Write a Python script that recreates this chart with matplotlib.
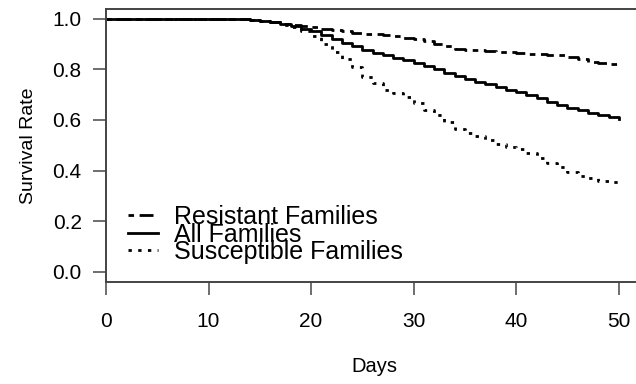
import matplotlib.pyplot as plt
import numpy as np

plt.rcParams['font.family'] = ['Liberation Sans', 'DejaVu Sans']

days = np.arange(0, 51)

resistant = [1.0]*13 + [0.998, 0.995, 0.99, 0.985, 0.98, 0.975, 0.97, 0.965,
    0.96, 0.955, 0.95, 0.945, 0.94, 0.938, 0.935, 0.93, 0.925, 0.92, 0.91,
    0.9, 0.89, 0.88, 0.877, 0.875, 0.872, 0.87, 0.868, 0.865, 0.862, 0.86,
    0.858, 0.855, 0.85, 0.84, 0.83, 0.825, 0.82, 0.814]
all_fam = [1.0]*13 + [0.998, 0.995, 0.99, 0.985, 0.978, 0.97, 0.96, 0.95,
    0.935, 0.92, 0.905, 0.89, 0.875, 0.865, 0.855, 0.845, 0.835, 0.825,
    0.812, 0.8, 0.787, 0.775, 0.762, 0.75, 0.74, 0.73, 0.72, 0.71, 0.7,
    0.685, 0.672, 0.66, 0.648, 0.638, 0.628, 0.618, 0.61, 0.605]
susceptible = [1.0]*13 + [0.998, 0.995, 0.99, 0.985, 0.975, 0.965, 0.95, 0.93,
    0.9, 0.87, 0.84, 0.81, 0.77, 0.745, 0.72, 0.705, 0.69, 0.665, 0.64,
    0.62, 0.59, 0.565, 0.55, 0.535, 0.52, 0.505, 0.495, 0.485, 0.47, 0.45,
    0.43, 0.415, 0.395, 0.38, 0.37, 0.36, 0.355, 0.352]

labels = ['Resistant Families', 'All Families', 'Susceptible Families']

fig = plt.figure(figsize=(6.36, 3.84), dpi=100)
ax = fig.add_axes([106/636, 102/384, 1 - 106/636 + 0.01, 273.5/384])

lw = 2.0
ax.step(days, resistant, where='post', color='black', lw=lw,
        dashes=(2, 2, 5, 2), label=labels[0])
ax.step(days, all_fam, where='post', color='black', lw=lw, label=labels[1])
ax.step(days, susceptible, where='post', color='black', lw=lw,
        dashes=(1.2, 2.3), label=labels[2])

ax.set_xlim(0, 52.3)
ax.set_ylim(-0.04, 1.04)
ax.set_xticks([0, 10, 20, 30, 40, 50])
ax.set_yticks([0.0, 0.2, 0.4, 0.6, 0.8, 1.0])
ax.set_yticklabels(['0.0', '0.2', '0.4', '0.6', '0.8', '1.0'])

for s in ['left', 'top', 'bottom']:
    ax.spines[s].set_color('#444444')
    ax.spines[s].set_linewidth(1.4)
ax.spines['right'].set_visible(False)
ax.tick_params(length=9.5, width=1.2, color='#555555', labelsize=15,
               labelcolor='black')
ax.tick_params(axis='x', pad=12)
ax.tick_params(axis='y', pad=8)

ax.set_xlabel('Days', fontsize=14.5, labelpad=19)
ax.set_ylabel('Survival Rate', fontsize=14, labelpad=11)

leg = ax.legend(loc='upper left', bbox_to_anchor=(0.022, 0.318), frameon=False,
                fontsize=18, labelspacing=-0.26, handlelength=1.2,
                handletextpad=0.65, borderaxespad=0)

fig.savefig('out.png', dpi=100)
